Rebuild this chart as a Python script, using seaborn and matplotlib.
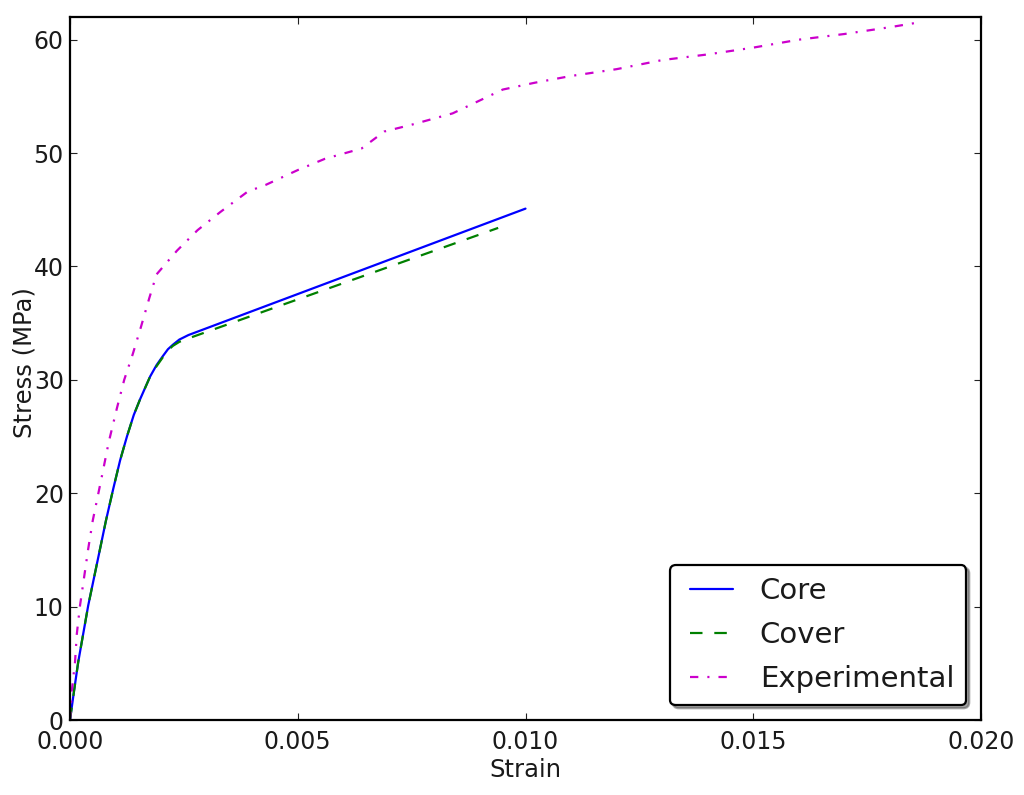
import matplotlib
matplotlib.use("Agg")
import matplotlib.pyplot as plt
import seaborn as sns

core_strain = [0, 0.00009, 0.00018, 0.00029, 0.0004, 0.00053, 0.00066, 0.00079, 0.00095, 0.0011, 0.00125, 0.0014, 0.00154, 0.00176, 0.0019, 0.00204, 0.00215, 0.00226, 0.0024, 0.0026, 0.010]
core_stress = [0, 2.6, 5.1, 7.6, 10.1, 12.6, 15.1, 17.6, 20.4, 22.9, 25.0, 26.9, 28.3, 30.3, 31.3, 32.1, 32.7, 33.1, 33.55, 33.95, 45.1]

cover_strain = [0, 0.00009, 0.00018, 0.00029, 0.0004, 0.00053, 0.00066, 0.00079, 0.00095, 0.0011, 0.00125, 0.0014, 0.00154, 0.00176, 0.0019, 0.00204, 0.00215, 0.00226, 0.0024, 0.0027, 0.0094]
cover_stress = [0, 2.6, 5.1, 7.6, 10.1, 12.6, 15.1, 17.6, 20.4, 22.9, 25.0, 26.9, 28.3, 30.3, 31.2, 32.0, 32.6, 33.0, 33.35, 33.8, 43.4]

exp_strain = [0, 0.00004, 0.00011, 0.00015, 0.00022, 0.00031, 0.0004, 0.0005, 0.0007, 0.00085, 0.00103, 0.00119, 0.00138, 0.00156, 0.00174, 0.0019,
              0.00235, 0.0028, 0.0033, 0.0039, 0.0043, 0.005, 0.0056, 0.0064, 0.0069, 0.0075, 0.0084, 0.0095, 0.0102, 0.011, 0.012, 0.013, 0.014,
              0.015, 0.016, 0.017, 0.018, 0.0186]
exp_stress = [0, 2.6, 5.1, 7.6, 10.1, 12.6, 15.1, 17.6, 21.5, 24.5, 27.5, 30, 32.3, 34.7, 37.2, 39.3,
              41.4, 43.2, 44.8, 46.6, 47.2, 48.5, 49.5, 50.4, 51.9, 52.5, 53.5, 55.6, 56.2, 56.8, 57.4, 58.2, 58.7,
              59.3, 60, 60.5, 61.1, 61.5]

xticks = [0.000, 0.005, 0.010, 0.015, 0.020]
yticks = [0, 10, 20, 30, 40, 50, 60]

sns.set_theme(style="white")
plt.rcParams["lines.scale_dashes"] = False

fig = plt.figure(figsize=(10.24, 7.95), dpi=100)
ax = fig.add_axes([70 / 1024, 1 - 720 / 795, 911 / 1024, 703 / 795])

sns.lineplot(x=core_strain, y=core_stress, ax=ax, color="#0000ff", linewidth=1.6,
             sort=False, estimator=None, label="Core")
sns.lineplot(x=cover_strain, y=cover_stress, ax=ax, color="#008000", linewidth=1.6,
             sort=False, estimator=None, label="Cover", linestyle=(0, (9, 8.5)))
sns.lineplot(x=exp_strain, y=exp_stress, ax=ax, color="#cc00cc", linewidth=1.6,
             sort=False, estimator=None, label="Experimental", linestyle=(0, (6, 6.5, 1.5, 6.5)))

ax.set_xlim(0, 0.020)
ax.set_ylim(0, 62)
ax.set_xticks(xticks)
ax.set_yticks(yticks)
ax.set_xticklabels([f"{t:.3f}" for t in xticks])
ax.tick_params(direction="in", length=5, width=0.8, top=True, right=True, bottom=True, left=True,
               labelsize=17, labelcolor="#1a1a1a", color="#222222", pad=7)
ax.tick_params(axis="y", pad=4.5)
for spine in ax.spines.values():
    spine.set_linewidth(1.6)
    spine.set_color("black")

ax.set_xlabel("Strain", fontsize=17.5, color="#1a1a1a", labelpad=3)
ax.set_ylabel("Stress (MPa)", fontsize=17.5, color="#1a1a1a")
ax.yaxis.set_label_coords(-0.037, 0.509)

leg = ax.legend(loc="lower right", fontsize=21, fancybox=True, shadow=True, framealpha=1,
                edgecolor="black", labelcolor="#1a1a1a", borderaxespad=0.5,
                handlelength=2.15, handletextpad=0.5, labelspacing=0.55, borderpad=0.42)
leg.get_frame().set_linewidth(1.6)
# shorter handle lines, inset in their box like the old legend layout
for line in leg.get_lines():
    y = line.get_ydata()[0]
    line.set_data([5.8, 36.8], [y, y])

fig.savefig("out.png", dpi=100)
